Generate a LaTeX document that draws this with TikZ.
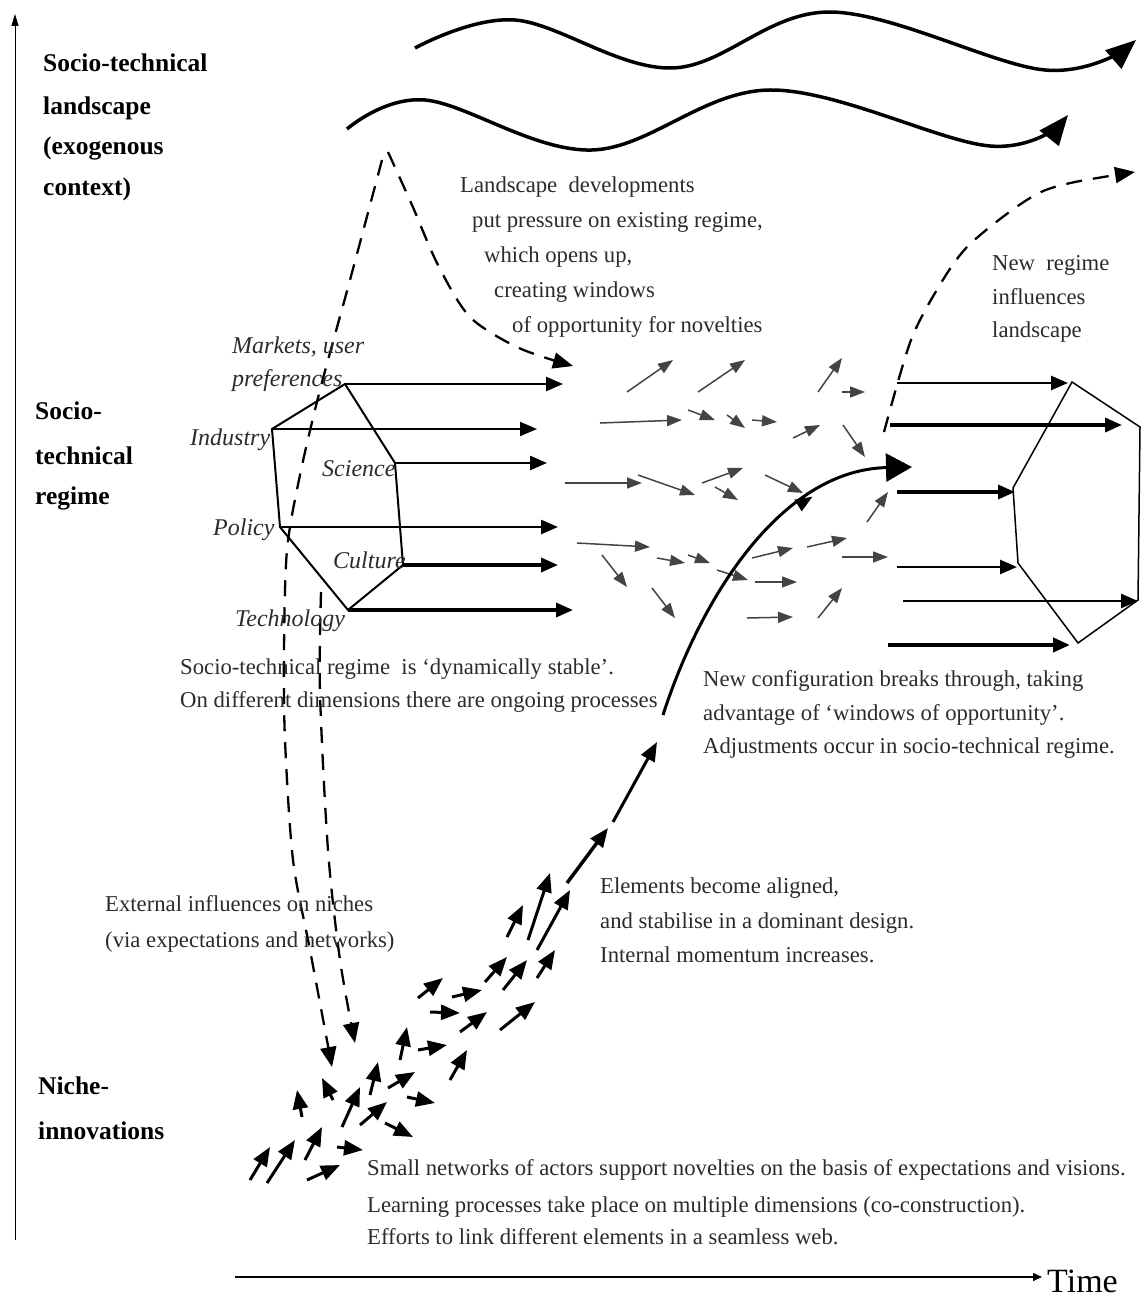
\documentclass[tikz,border=0pt]{standalone}
\usepackage{fontspec}
\setmainfont{Liberation Serif}
\usetikzlibrary{arrows.meta,decorations.markings}
\tikzset{
  txt/.style={anchor=base west,inner sep=0pt,text=textgrey,font=\fontsize{22.7}{26}\selectfont},
  dimlabel/.style={txt,font=\fontsize{24}{28}\selectfont\itshape},
  level/.style={anchor=base west,inner sep=0pt,font=\fontsize{25.5}{30}\selectfont\bfseries},
  wave/.style={line width=3.5pt,-{Triangle[length=30pt,width=24pt]}},
  push/.style={line width=2.3pt,dash pattern=on 16pt off 11pt,-{Triangle[length=20pt,width=16pt]}},
  dimarrow/.style={-{Triangle[length=17pt,width=14pt]}},
  smallarrow/.style={line width=1.5pt,arrowgrey,-{Triangle[length=15pt,width=11pt]}},
  nichearrow/.style={line width=3pt,-{Triangle[length=19pt,width=15pt]}}
}
\begin{document}
\begin{tikzpicture}[x=1pt,y=-1pt]
  \definecolor{textgrey}{HTML}{2B2B2B}
  \definecolor{arrowgrey}{HTML}{444444}
  \useasboundingbox (0,0) rectangle (1144,1300);
  % axes
  \draw [line width=1pt,-{Triangle[length=12pt,width=7pt]}] (15,1240) -- (15,14);
  \draw [line width=1.5pt,-{Triangle[length=9pt,width=8pt]}] (235,1277) -- (1042,1277);
  \node [anchor=base west,inner sep=0pt,font=\fontsize{34}{38}\selectfont] (time) at (1047,1292) {Time};
  % levels
  \foreach \y/\t [count=\i] in {72/Socio-technical,115/landscape,155/(exogenous,196/context)}
    \node [level] (land\i) at (43,\y) {\t};
  \foreach \y/\t [count=\i] in {419/Socio-,464/technical,504/regime}
    \node [level] (reg\i) at (35,\y) {\t};
  \foreach \y/\t [count=\i] in {1094/Niche-,1139/innovations}
    \node [level] (niche\i) at (38,\y) {\t};
  % landscape waves
  \draw [wave] plot [smooth,tension=0.6] coordinates {(415,48) (515,20) (672,68) (830,12) (1045,70) (1136,40)};
  \draw [wave] plot [smooth,tension=0.6] coordinates {(347,129) (425,100) (592,150) (770,90) (990,146) (1068,115)};
  % dashed influences
  \draw [push] plot [smooth] coordinates {(388,152) (412,205) (438,265) (470,317) (519,348) (573,366)};
  \draw [push] plot [smooth] coordinates {(382,160) (350,280) (320,390) (300,475) (287,550) (284,650) (285,740) (293,860) (310,950) (332,1067)};
  \draw [push] plot [smooth] coordinates {(321,592) (320,693) (328,850) (340,960) (355,1043)};
  \draw [push] plot [smooth] coordinates {(884,432) (911,340) (941,283) (967,247) (1008,213) (1041,192) (1075,182) (1135,172)};
  % old regime
  \draw [line width=2pt] (345,384) -- (272,429) -- (280,527) -- (348,610) -- (403,565) -- (395,463) -- cycle;
  \foreach \sx/\y/\ex/\w in {345/384/563/2.5,272/429/537/2,395/463/547/2.5,280/527/558/2.5,403/565/558/3.5,348/610/573/3.5}
    \draw [dimarrow,line width=\w pt] (\sx,\y) -- (\ex,\y);
  % new regime
  \draw [line width=1.5pt] (1072,382) -- (1140,427) -- (1138,600) -- (1078,643) -- (1018,563) -- (1013,488) -- cycle;
  \foreach \sx/\y/\ex/\w in {897/383/1068/2.5,890/425/1122/3.5,897/492/1015/3.5,897/567/1017/2.5,903/601/1138/2.5,888/645/1070/4}
    \draw [dimarrow,line width=\w pt] (\sx,\y) -- (\ex,\y);
  % processes in the regime
  \foreach \sx/\sy/\ex/\ey in {627/392/673/360,698/392/745/360,818/392/842/358,842/392/865/392,
    600/423/682/420,688/410/715/420,727/415/745/428,752/420/777/422,793/438/820/425,843/425/865/457,
    565/483/642/483,638/475/695/495,702/483/743/468,715/487/738/500,765/475/803/493,867/522/888/492,
    577/543/650/547,602/555/627/587,657/558/685/563,688/555/710/563,717/570/748/580,752/558/793/548,
    807/547/847/538,842/557/888/557,652/588/675/618,755/582/797/582,747/618/793/617,818/618/842/588}
    \draw [smallarrow] (\sx,\sy) -- (\ex,\ey);
  % niche activity
  \foreach \sx/\sy/\ex/\ey in {250/1180/270/1147,267/1183/295/1140,305/1160/322/1127,307/1180/340/1165,
    337/1147/363/1150,302/1117/297/1090,333/1100/322/1078,342/1127/360/1087,360/1125/387/1102,
    385/1123/413/1137,370/1095/378/1062,388/1088/415/1072,407/1097/435/1103,400/1060/407/1027,
    418/1050/447/1045,450/1080/467/1050,418/998/443/978,430/1012/460/1013,452/997/482/990,
    460/1032/487/1012,485/982/507/957,500/1030/535/1002,503/990/527/960,537/978/555/950,
    507/937/523/905,528/940/550/873,537/950/570/890}
    \draw [nichearrow] (\sx,\sy) -- (\ex,\ey);
  % breakthrough
  \draw [nichearrow,line width=3.5pt] (567,883) -- (608,828);
  \draw [nichearrow] (613,822) -- (657,742);
  \draw [line width=3pt,-{Triangle[length=26pt,width=28pt]},postaction={decorate},
    decoration={markings,mark=at position 0.72 with {\arrow{Triangle[length=17pt,width=13pt]}}}]
    (663,715) .. controls (700,600) and (780,470) .. (912,467);
  % dimension labels
  \node [dimlabel] (markets) at (232,353) {Markets, user};
  \node [dimlabel] (prefs) at (232,386) {preferences};
  \node [dimlabel] (industry) at (190,445) {Industry};
  \node [dimlabel] (science) at (322,476) {Science};
  \node [dimlabel] (policy) at (213,535) {Policy};
  \node [dimlabel] (culture) at (333,568) {Culture};
  \node [dimlabel] (techn) at (235,626) {Technology};
  % texts
  \foreach \x/\y/\t [count=\i] in {460/193/{Landscape\ \ developments},472/227/{put pressure on existing regime,},
    484/262/{which opens up,},494/297/{creating windows},512/332/{of opportunity for novelties}}
    \node [txt] (press\i) at (\x,\y) {\t};
  \foreach \y/\t [count=\i] in {270/{New\ \ regime},304/influences,337/landscape}
    \node [txt] (influ\i) at (992,\y) {\t};
  \foreach \y/\t [count=\i] in {674/{Socio-technical regime\ \ is ‘dynamically stable’.},707/{On different dimensions there are ongoing processes}}
    \node [txt] (stable\i) at (180,\y) {\t};
  \foreach \y/\t [count=\i] in {686/{New configuration breaks through, taking},720/{advantage of ‘windows of opportunity’.},753/{Adjustments occur in socio-technical regime.}}
    \node [txt] (break\i) at (703,\y) {\t};
  \foreach \y/\t [count=\i] in {893/{Elements become aligned,},928/{and stabilise in a dominant design.},962/{Internal momentum increases.}}
    \node [txt] (align\i) at (600,\y) {\t};
  \foreach \y/\t [count=\i] in {911/{External influences on niches},947/{(via expectations and networks)}}
    \node [txt] (extern\i) at (105,\y) {\t};
  \foreach \y/\t [count=\i] in {1175/{Small networks of actors support novelties on the basis of expectations and visions.},
    1212/{Learning processes take place on multiple dimensions (co-construction).},1244/{Efforts to link different elements in a seamless web.}}
    \node [txt] (small\i) at (367,\y) {\t};
\end{tikzpicture}
\end{document}
